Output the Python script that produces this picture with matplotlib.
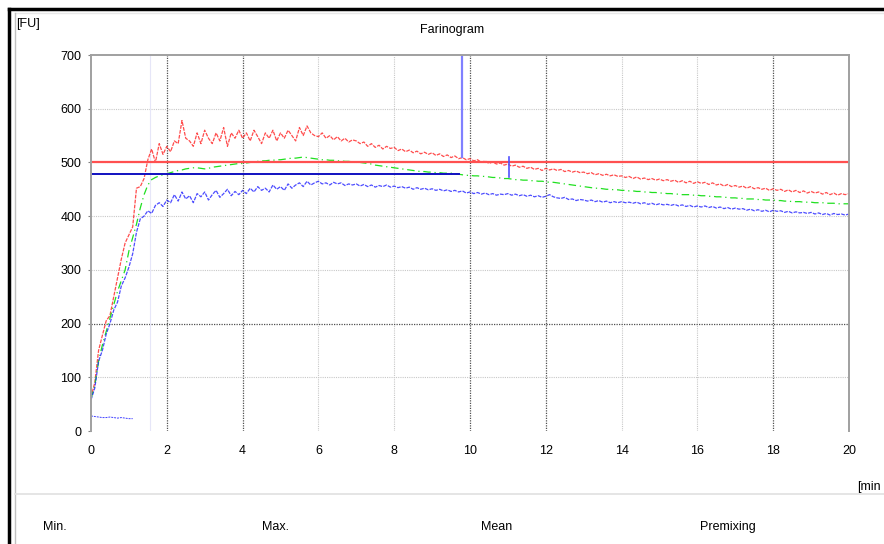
import numpy as np
import matplotlib
matplotlib.use("Agg")
import matplotlib.pyplot as plt
from matplotlib.lines import Line2D

plt.rcParams['font.family'] = ['Liberation Sans', 'DejaVu Sans']

# time axis in minutes, one reading every 0.1 min
t = np.round(np.arange(0, 201) * 0.1, 1)

red = [63, 90, 150, 178, 205, 215, 250, 285, 320, 350,
       365, 380, 452, 455, 470, 505, 525, 500, 535, 515,
       530, 520, 540, 535, 578, 545, 540, 530, 555, 535,
       560, 545, 535, 555, 540, 565, 530, 555, 545, 560,
       545, 555, 540, 560, 548, 535, 555, 545, 560, 540,
       555, 545, 560, 550, 540, 565, 550, 568, 555, 550,
       548, 555, 545, 550, 542, 548, 540, 545, 538, 542,
       540, 535, 538, 530, 535, 528, 532, 525, 530, 526,
       528, 522, 525, 520, 523, 518, 521, 516, 519, 515,
       518, 513, 516, 511, 514, 509, 512, 507, 509, 505,
       507, 503, 505, 500, 503, 498, 501, 497, 499, 495,
       497, 493, 495, 491, 493, 489, 491, 487, 489, 485,
       489, 486, 488, 485, 487, 483, 485, 482, 484, 481,
       482, 479, 481, 477, 479, 476, 478, 475, 477, 474,
       475, 472, 474, 470, 473, 469, 471, 468, 470, 467,
       469, 466, 468, 465, 467, 463, 466, 462, 465, 461,
       464, 461, 463, 459, 462, 458, 460, 456, 459, 455,
       457, 454, 456, 452, 455, 451, 453, 450, 452, 448,
       451, 448, 450, 446, 449, 445, 448, 444, 447, 443,
       446, 443, 445, 441, 444, 440, 443, 439, 442, 440, 442]

green = [60, 85, 130, 160, 185, 210, 235, 260, 280, 300,
         335, 360, 385, 415, 440, 458, 468, 472, 475, 477,
         479, 481, 483, 485, 486, 488, 489, 490, 490, 489,
         488, 489, 491, 492, 493, 494, 495, 496, 497, 498,
         498, 499, 500, 501, 502, 503, 503, 504, 504, 505,
         505, 506, 507, 508, 508, 509, 510, 509, 508, 507,
         506, 505, 505, 504, 504, 503, 503, 502, 502, 501,
         501, 500, 499, 498, 497, 495, 494, 493, 492, 491,
         490, 489, 488, 487, 486, 485, 484, 483, 483, 482,
         482, 481, 481, 480, 480, 480, 479, 478, 477, 476,
         476, 475, 475, 474, 474, 473, 472, 472, 471, 470,
         470, 469, 468, 468, 467, 467, 466, 466, 465, 465,
         464, 463, 463, 462, 461, 460, 459, 458, 457, 456,
         455, 454, 453, 452, 452, 451, 450, 450, 449, 449,
         448, 448, 447, 447, 446, 446, 445, 445, 444, 444,
         443, 443, 442, 442, 441, 441, 440, 440, 440, 439,
         439, 438, 438, 437, 437, 436, 436, 435, 435, 434,
         434, 433, 433, 432, 432, 432, 431, 431, 430, 430,
         430, 429, 429, 428, 428, 427, 427, 427, 426, 426,
         426, 425, 425, 425, 424, 424, 424, 423, 423, 423, 423]

blue = [58, 80, 130, 150, 180, 200, 225, 240, 270, 285,
        305, 330, 370, 395, 400, 410, 405, 420, 425, 418,
        430, 425, 440, 428, 445, 432, 438, 425, 442, 436,
        445, 430, 440, 448, 435, 442, 450, 438, 446, 440,
        448, 442, 452, 445, 455, 448, 452, 445, 458, 450,
        455, 448, 460, 452, 458, 462, 455, 465, 458, 462,
        465, 460, 462, 458, 463, 460, 462, 457, 460, 458,
        460, 456, 459, 455, 458, 454, 457, 455, 458, 454,
        456, 453, 455, 452, 454, 450, 453, 450, 452, 449,
        451, 448, 450, 447, 449, 446, 448, 445, 447, 443,
        445, 442, 444, 441, 443, 440, 442, 439, 441, 440,
        442, 439, 441, 438, 440, 437, 439, 436, 438, 435,
        437, 440, 436, 434, 433, 435, 431, 432, 429, 431,
        430, 428, 430, 427, 429, 426, 428, 425, 427, 425,
        427, 425, 426, 424, 426, 423, 425, 422, 424, 421,
        423, 421, 422, 420, 422, 419, 421, 418, 420, 417,
        419, 417, 419, 416, 418, 415, 417, 414, 416, 413,
        415, 413, 414, 411, 413, 410, 412, 409, 411, 408,
        411, 409, 410, 407, 409, 406, 408, 406, 407, 405,
        407, 404, 406, 403, 405, 402, 405, 403, 404, 402, 404]

# short low trace at the start
t_low = t[:12]
blue_low = [28, 27, 26, 25, 25, 26, 25, 24, 25, 24, 23, 23]

red_level = 500
blue_level = 478
blue_level_end = 9.7
mark1_t, mark1_lo, mark1_hi = 9.8, 510, 700
mark2_t, mark2_lo, mark2_hi = 11.03, 472, 510

fig = plt.figure(figsize=(8.84, 5.44), dpi=100)
ax = fig.add_axes([91/884, 1-431/544, (849-91)/884, (431-55)/544])

ax.set_xlim(0, 20)
ax.set_ylim(0, 700)
ax.set_xticks(range(0, 21, 2))
ax.set_yticks(range(0, 701, 100))

# grid: light dotted, some darker
for x in [6, 8, 14, 16]:
    ax.axvline(x, color='#c8c8c8', lw=0.8, ls=(0, (1, 1)), zorder=0)
for x in [2, 4, 10, 12, 18]:
    ax.axvline(x, color='#505050', lw=0.9, ls=(0, (1, 1)), zorder=0)
for y in [100, 300, 400, 500, 600]:
    ax.axhline(y, color='#c8c8c8', lw=0.8, ls=(0, (1, 1)), zorder=0)
ax.axhline(200, color='#505050', lw=0.9, ls=(0, (1, 1)), zorder=0)
ax.axvline(1.55, color='#e6e6f8', lw=0.8, zorder=0)

ax.plot(t, red, color='#ff2020', lw=0.9, alpha=0.8, ls=(0, (3, 1)))
ax.plot(t, green, color='#20e020', lw=0.9, ls=(0, (6, 3, 1, 3)))
ax.plot(t, blue, color='#2020ff', lw=0.9, alpha=0.8, ls=(0, (3, 1)))
ax.plot(t_low, blue_low, color='#4040ff', lw=0.7, ls=(0, (2, 1)))

ax.axhline(red_level, color='#ff5050', lw=1.6)
ax.plot([0, blue_level_end], [blue_level, blue_level], color='#1010c0', lw=1.4)
ax.plot([mark1_t, mark1_t], [mark1_lo, mark1_hi], color='#8080ff', lw=1.6)
ax.plot([mark2_t, mark2_t], [mark2_lo, mark2_hi], color='#5050ff', lw=1.2)

for s in ['left', 'right', 'top']:
    ax.spines[s].set_color('#a0a0a0')
    ax.spines[s].set_linewidth(1.4)
ax.spines['bottom'].set_visible(False)
ax.tick_params(axis='y', length=2, color='#808080', labelsize=9, pad=5)
ax.tick_params(axis='x', length=0, labelsize=9, pad=10)

# window frame
fig.add_artist(Line2D([9/884, 1], [1-9/544, 1-9/544], color='black', lw=2.5))
fig.add_artist(Line2D([9/884, 9/884], [0, 1-9/544], color='black', lw=2.5))
fig.add_artist(Line2D([15/884, 1], [1-13/544, 1-13/544], color='#e8e8e8', lw=1))
fig.add_artist(Line2D([15/884, 15/884], [0, 1-13/544], color='#c0c0c0', lw=1))
fig.add_artist(Line2D([15/884, 1], [1-494/544, 1-494/544], color='#e0e0e0', lw=1.2))

fig.text(16/884, 1-24/544, '[FU]', fontsize=9, va='center')
fig.text(452/884, 1-30/544, 'Farinogram', fontsize=9, ha='center', va='center')
fig.text(857/884, 1-487/544, '[min', fontsize=9, va='center')
for lbl, x in [('Min.', 43), ('Max.', 262), ('Mean', 481), ('Premixing', 700)]:
    fig.text(x/884, 1-527/544, lbl, fontsize=9, va='center')

fig.savefig('out.png', dpi=100)
